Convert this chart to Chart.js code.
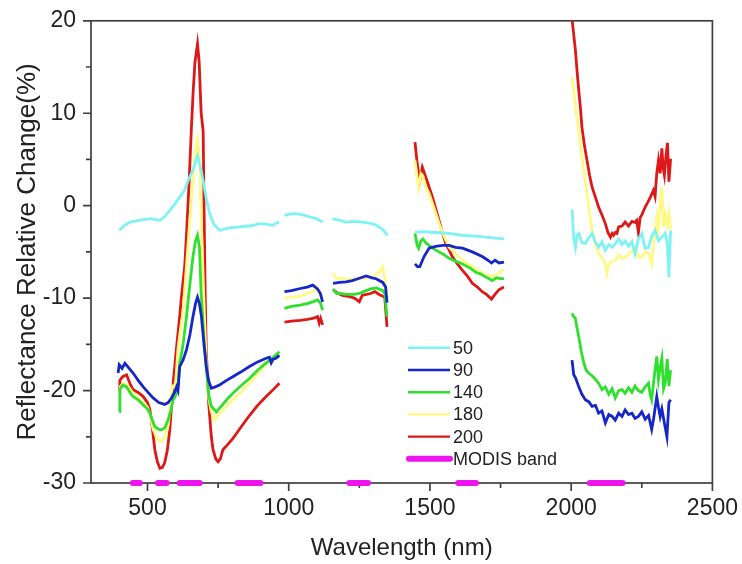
<!DOCTYPE html>
<html><head><meta charset="utf-8">
<script src="https://cdn.jsdelivr.net/npm/chart.js@4/dist/chart.umd.min.js"></script>
<style>html,body{margin:0;padding:0;background:#fff}#wrap{width:742px;height:564px;position:relative}</style>
</head><body><div id="wrap"><canvas id="c"></canvas></div>
<script>
// ---- data (wavelength nm, reflectance relative change %) ; null = gap ----
const wl50 = [400,420,438,470,508,530,544,560,579,597,614,630,644,660,677,687,697,708,720,735,755,790,826,860,897,920,943,955,967, 975,
  985,1005,1026,1050,1073,1097,1120, 1135,
  1155,1180,1203,1230,1262,1290,1309,1330,1350, 1400,
  1447,1480,1520,1568,1615,1660,1700,1730,1762, 1900,
  2003,2009,2015,2021,2027,2038,2050,2062,2074,2086,2097,2109,2121,2133,2145,2156,2168,2180,2191,2203,2215,2226,2238,2250,2262,2274,2285,2297,2309,2321,2333,2340,2346,2352];
const rc50 = [-2.66,-2.1,-1.77,-1.6,-1.4,-1.5,-1.58,-1.2,-0.5,0.2,0.93,1.6,2.73,3.8,5.4,4.2,2.7,0.8,-0.86,-2.0,-2.66,-2.4,-2.3,-2.2,-1.94,-2.0,-2.12,-1.9,-1.77, null,
  -1.04,-0.9,-0.86,-1.0,-1.2,-1.4,-1.77, null,
  -1.4,-1.6,-1.77,-1.7,-1.77,-1.9,-2.1,-2.5,-3.2, null,
  -2.85,-2.8,-2.9,-3.0,-3.2,-3.3,-3.4,-3.5,-3.6, null,
  -0.4,-3.5,-4.5,-3.2,-3.0,-4.0,-4.1,-3.5,-3.0,-4.0,-4.5,-3.9,-4.8,-4.2,-4.5,-4.1,-3.6,-4.2,-3.8,-4.4,-3.9,-5.2,-3.6,-3.0,-4.6,-4.5,-3.3,-2.7,-3.8,-3.4,-3.0,-4.0,-7.7,-2.7];

const wl90 = [396,400,410,420,435,449,467,485,502,520,540,561,573,585,597,603,608,614,626,638,650,661,670,677,684,691,700,708,717,726,740,755,780,802,830,861,890,920,932,938,945,955,967, 975,
  985,1010,1041,1065,1085,1102,1112,1120, 1135,
  1157,1180,1203,1225,1245,1274,1295,1309,1333,1343,1348, 1400,
  1447,1456,1464,1479,1497,1520,1545,1568,1590,1615,1650,1685,1705,1718,1730,1745,1762, 1900,
  2003,2009,2015,2027,2038,2050,2062,2074,2086,2097,2109,2121,2133,2145,2156,2168,2180,2191,2203,2215,2226,2238,2250,2262,2274,2285,2292,2303,2309,2315,2321,2330,2339,2346,2352];
const rc90 = [-18.1,-17.2,-17.6,-17.05,-17.6,-18.1,-18.9,-19.6,-20.2,-20.8,-21.3,-21.5,-21.3,-20.8,-20.1,-19.6,-20.0,-17.4,-16.7,-15.6,-14.0,-12.0,-10.6,-9.9,-10.6,-12.0,-15.0,-17.4,-19.0,-19.75,-19.6,-19.4,-18.9,-18.5,-18.0,-17.4,-16.9,-16.5,-16.4,-17.0,-16.6,-16.5,-16.2, null,
  -9.3,-9.2,-8.96,-8.8,-8.6,-9.0,-9.5,-10.4, null,
  -8.4,-8.3,-8.25,-8.1,-7.9,-7.6,-7.8,-7.9,-8.3,-8.8,-10.5, null,
  -6.3,-6.6,-6.6,-5.5,-4.6,-4.4,-4.3,-4.3,-4.5,-4.6,-5.0,-5.5,-5.9,-6.2,-5.9,-6.2,-6.1, null,
  -16.7,-18.3,-18.6,-19.6,-20.4,-21.0,-21.2,-21.7,-21.6,-22.45,-22.2,-23.5,-22.6,-22.8,-23.2,-22.45,-22.8,-22.1,-22.6,-22.45,-23.0,-22.8,-22.3,-23.1,-22.7,-24.2,-23.0,-20.65,-21.8,-22.8,-22.0,-23.5,-25.0,-21.3,-21.0];

const wl140 = [400,402,412,426,440,449,467,485,500,508,518,526,540,550,562,573,582,591,600,608,614,626,638,650,661,670,677,684,690,700,708,717,726,744,752,761,780,802,830,861,890,920,945,967, 975,
  985,1010,1041,1065,1085,1102,1112,1120, 1135,
  1157,1170,1185,1203,1230,1250,1265,1290,1310,1333,1340,1348, 1400,
  1447,1455,1460,1468,1475,1485,1497,1515,1532,1550,1568,1590,1615,1640,1662,1680,1697,1721,1735,1750,1762, 1900,
  2003,2009,2015,2021,2027,2036,2045,2053,2062,2074,2086,2097,2109,2121,2133,2145,2156,2168,2180,2191,2203,2215,2226,2238,2250,2262,2274,2280,2285,2292,2303,2309,2315,2321,2327,2333,2340,2346,2352];
const rc140 = [-22.3,-19.9,-19.4,-19.6,-20.3,-20.65,-21.0,-21.55,-22.0,-22.4,-23.3,-23.9,-24.2,-24.25,-24.0,-23.2,-22.2,-21.0,-20.5,-19.5,-17.05,-15.0,-12.0,-8.5,-5.5,-3.8,-3.2,-4.5,-9.5,-14.5,-17.4,-20.5,-21.7,-22.3,-22.0,-21.7,-21.0,-20.3,-19.5,-18.7,-17.8,-17.0,-16.4,-15.8, null,
  -11.1,-10.9,-10.76,-10.6,-10.4,-10.2,-10.5,-11.3, null,
  -9.0,-9.5,-9.5,-9.6,-9.6,-9.5,-9.3,-9.0,-8.9,-9.2,-9.5,-12.0, null,
  -3.0,-4.3,-4.6,-3.8,-3.6,-4.0,-4.3,-4.7,-5.0,-5.3,-5.7,-6.0,-6.3,-6.7,-7.2,-7.4,-7.7,-8.1,-7.8,-7.9,-7.9, null,
  -11.65,-12.0,-12.2,-13.3,-14.2,-15.8,-17.05,-17.8,-18.1,-18.4,-18.8,-19.2,-19.9,-19.6,-20.4,-19.8,-20.8,-20.0,-19.9,-20.3,-19.7,-20.2,-19.5,-20.0,-20.2,-19.6,-19.2,-20.5,-21.0,-19.0,-16.3,-18.8,-17.5,-16.5,-19.8,-19.2,-16.6,-19.5,-17.8];

const wl180 = [400,405,415,426,440,449,467,485,500,510,520,535,550,562,573,582,588,594,600,608,617,626,638,650,661,670,677,684,691,700,708,717,726,738,752,761,780,802,830,861,890,920,945,967, 975,
  985,1010,1041,1065,1085,1102,1115, 1135,
  1157,1170,1200,1230,1260,1290,1309,1325,1333,1340,1348, 1400,
  1447,1455,1460,1468,1475,1485,1497,1515,1532,1550,1568,1590,1615,1635,1650,1675,1697,1721,1744,1762, 1900,
  2003,2010,2020,2029,2038,2047,2056,2065,2074,2086,2097,2109,2121,2127,2133,2145,2156,2168,2180,2191,2203,2215,2226,2238,2250,2262,2274,2285,2292,2303,2309,2315,2321,2327,2333,2340,2346,2352];
const rc180 = [-20.3,-19.5,-19.2,-19.4,-19.9,-20.3,-20.8,-21.3,-21.8,-22.7,-24.2,-25.3,-25.5,-25.0,-23.8,-21.5,-19.5,-19.6,-19.0,-15.5,-13.3,-11.5,-6.5,-1.5,3.0,6.0,7.2,5.0,-2.0,-10.5,-17.0,-20.8,-22.3,-23.2,-22.6,-22.3,-21.7,-21.0,-20.2,-19.2,-18.2,-17.2,-16.6,-16.0, null,
  -10.0,-9.9,-9.8,-9.5,-9.3,-9.1,-10.0, null,
  -7.3,-7.9,-7.9,-8.0,-7.9,-7.7,-7.5,-7.0,-6.6,-7.8,-10.5, null,
  4.9,3.0,2.0,3.45,3.2,2.0,1.3,-0.3,-1.9,-3.3,-4.5,-5.2,-5.9,-6.3,-6.6,-7.1,-7.5,-7.7,-7.3,-6.9, null,
  13.9,12.0,9.6,7.4,5.25,3.2,1.3,-0.8,-2.66,-4.2,-5.2,-5.6,-6.3,-7.3,-6.4,-6.0,-5.9,-5.3,-5.7,-5.6,-5.2,-4.9,-4.5,-5.6,-5.6,-5.0,-5.2,-6.3,-4.0,-1.2,-2.5,0.5,2.0,-2.3,-1.0,-2.0,-0.8,-2.6];

const wl200 = [400,402,412,426,440,449,467,485,500,508,517,526,535,544,553,561,570,579,590,602,614,620,632,640,648,655,662,668,677,683,690,697,701,704,708,717,726,732,742,750,758,767,785,802,830,861,890,920,945,967, 975,
  985,1010,1041,1065,1085,1102,1108,1113,1120, 1135,
  1157,1175,1190,1210,1233,1250,1260,1275,1290,1305,1320,1333,1340,1348, 1400,
  1447,1455,1464,1473,1485,1497,1509,1520,1532,1544,1556,1568,1579,1597,1615,1632,1650,1668,1685,1700,1718,1730,1744,1762, 1900,
  2003,2009,2015,2021,2027,2033,2038,2047,2056,2065,2074,2086,2097,2109,2121,2130,2139,2145,2150,2156,2162,2168,2180,2191,2203,2215,2226,2232,2238,2244,2250,2262,2270,2280,2291,2297,2303,2309,2315,2321,2326,2330,2336,2341,2346,2352];
const rc200 = [-20.3,-18.9,-18.5,-18.3,-19.4,-19.9,-20.2,-20.65,-21.3,-22.0,-24.0,-26.4,-27.7,-28.4,-28.3,-27.8,-26.5,-24.25,-19.5,-15.6,-12.0,-9.9,-6.5,-2.0,3.0,8.1,12.5,15.5,17.5,15.5,10.0,8.1,-2.0,-9.0,-15.6,-21.5,-25.0,-26.4,-27.4,-27.7,-27.4,-26.4,-25.8,-25.2,-24.0,-22.7,-21.6,-20.65,-19.9,-19.2, null,
  -12.6,-12.5,-12.4,-12.3,-12.2,-12.0,-12.7,-12.2,-12.9, null,
  -9.1,-9.5,-9.7,-9.8,-10.0,-10.4,-9.7,-9.6,-9.5,-9.3,-9.6,-9.8,-9.9,-13.1, null,
  6.87,4.5,2.73,4.17,3.1,2.0,0.93,-0.3,-1.6,-2.9,-4.1,-4.8,-5.5,-6.3,-7.0,-7.6,-8.4,-8.8,-9.3,-9.6,-10.1,-9.6,-9.1,-8.8, null,
  20.2,18.5,16.8,14.5,12.4,10.5,8.5,6.5,4.9,3.3,2.0,0.9,-0.15,-1.0,-1.94,-2.9,-3.4,-3.0,-3.2,-2.9,-3.0,-2.3,-2.2,-1.77,-2.2,-1.7,-1.8,-1.6,-2.9,-1.3,-1.0,-0.15,0.3,0.9,1.65,1.0,3.5,4.9,3.5,6.2,4.0,3.3,5.5,6.8,2.6,5.1];

// MODIS band ranges (nm)
const modisBands = [[448,473],[537,568],[614,685],[819,900],[1215,1281],[1600,1663],[2066,2182]];
const modisLevel = -30;

const seriesNames = ['50','90','140','180','200'];
const seriesColors = ['#7ef3f3','#1626c8','#2fe02f','#fff985','#dd1818'];
const modisName = 'MODIS band';
const modisColor = '#ee14ee';

const xTickValues = [500,1000,1500,2000,2500];
const xMinorValues = [750,1250,1750,2250];
const yTickValues = [-30,-20,-10,0,10,20];
const yMinorValues = [-25,-15,-5,5,15];

// ---- build datasets ----
const wls = [wl50,wl90,wl140,wl180,wl200];
const rcs = [rc50,rc90,rc140,rc180,rc200];
const datasets = seriesNames.map((n,k)=>({
  label:n,
  data: wls[k].map((x,i)=>({x:x, y:rcs[k][i]})),
  borderColor: seriesColors[k], backgroundColor: seriesColors[k],
  borderWidth: 2.8, pointRadius: 0, tension: 0, spanGaps: false
}));
const modisData = [];
modisBands.forEach(b=>{ modisData.push({x:b[0],y:modisLevel},{x:b[1],y:modisLevel},{x:(b[1]+5),y:null}); });
datasets.push({label:modisName, data:modisData, borderColor:modisColor, backgroundColor:modisColor,
  borderWidth:6, borderCapStyle:'round', pointRadius:0, spanGaps:false, clip:false});

const FONT = "'Liberation Sans', Arial, sans-serif";
const frameColor = '#404040';
const textColor = '#222';

const framePlugin = {
  id:'frame',
  beforeDatasetsDraw(chart){
    const {ctx, chartArea:a, scales:{x,y}} = chart;
    ctx.save();
    ctx.strokeStyle = frameColor; ctx.lineWidth = 1.7;
    ctx.strokeRect(a.left, a.top, a.right-a.left, a.bottom-a.top);
    ctx.beginPath();
    xTickValues.forEach(v=>{const p=x.getPixelForValue(v); ctx.moveTo(p,a.bottom); ctx.lineTo(p,a.bottom+8);});
    xMinorValues.forEach(v=>{const p=x.getPixelForValue(v); ctx.moveTo(p,a.bottom); ctx.lineTo(p,a.bottom+5);});
    yTickValues.forEach(v=>{const p=y.getPixelForValue(v); ctx.moveTo(a.left,p); ctx.lineTo(a.left-8,p);});
    yMinorValues.forEach(v=>{const p=y.getPixelForValue(v); ctx.moveTo(a.left,p); ctx.lineTo(a.left-5,p);});
    ctx.stroke();
    ctx.restore();
  },
  afterDraw(chart){
    const {ctx, chartArea:a} = chart;
    ctx.save();
    const lx = a.left + 317, ly = a.top + 327, step = 22.2;
    ctx.font = "18px " + FONT; ctx.textBaseline = 'middle'; ctx.fillStyle = textColor;
    const names = seriesNames.concat([modisName]);
    const cols = seriesColors.concat([modisColor]);
    names.forEach((n,i)=>{
      const yy = ly + i*step;
      ctx.strokeStyle = cols[i];
      ctx.lineWidth = i===5 ? 6 : 2.4;
      ctx.lineCap = i===5 ? 'round' : 'butt';
      ctx.beginPath();
      if(i===5){ ctx.moveTo(lx+1,yy); ctx.lineTo(lx+42,yy);} else { ctx.moveTo(lx,yy); ctx.lineTo(lx+42,yy);}
      ctx.stroke();
      ctx.fillText(n, lx+45, yy+1);
    });
    ctx.restore();
  }
};

new Chart(document.getElementById('c'), {
  type:'line',
  data:{datasets},
  options:{
    responsive:true, maintainAspectRatio:false, animation:false,
    layout:{padding:{top:20,right:28,left:0,bottom:0}},
    plugins:{legend:{display:false}, tooltip:{enabled:false}},
    scales:{
      x:{type:'linear', min:300, max:2500,
        afterBuildTicks:(s)=>{s.ticks = xTickValues.map(v=>({value:v}));},
        afterFit:(s)=>{s.height = 81;},
        grid:{display:true, drawOnChartArea:false, tickLength:8, color:'rgba(0,0,0,0)'},
        border:{display:false},
        ticks:{padding:4, color:textColor, font:{family:FONT, size:23}, maxRotation:0, autoSkip:false, callback:(v)=>String(v)},
        title:{display:true, text:'Wavelength (nm)', color:textColor, font:{family:FONT, size:24}, padding:{top:0,bottom:1}}
      },
      y:{type:'linear', min:-30, max:20,
        afterBuildTicks:(s)=>{s.ticks = yTickValues.map(v=>({value:v}));},
        afterFit:(s)=>{s.width = 91;},
        grid:{display:true, drawOnChartArea:false, tickLength:8, color:'rgba(0,0,0,0)'},
        border:{display:false},
        ticks:{padding:7, color:textColor, font:{family:FONT, size:23}, autoSkip:false, callback:(v)=>String(v)},
        title:{display:true, text:'Reflectance Relative Change(%)', color:textColor, font:{family:FONT, size:26}, padding:{top:12,bottom:0}}
      }
    }
  },
  plugins:[framePlugin]
});
</script></body></html>
